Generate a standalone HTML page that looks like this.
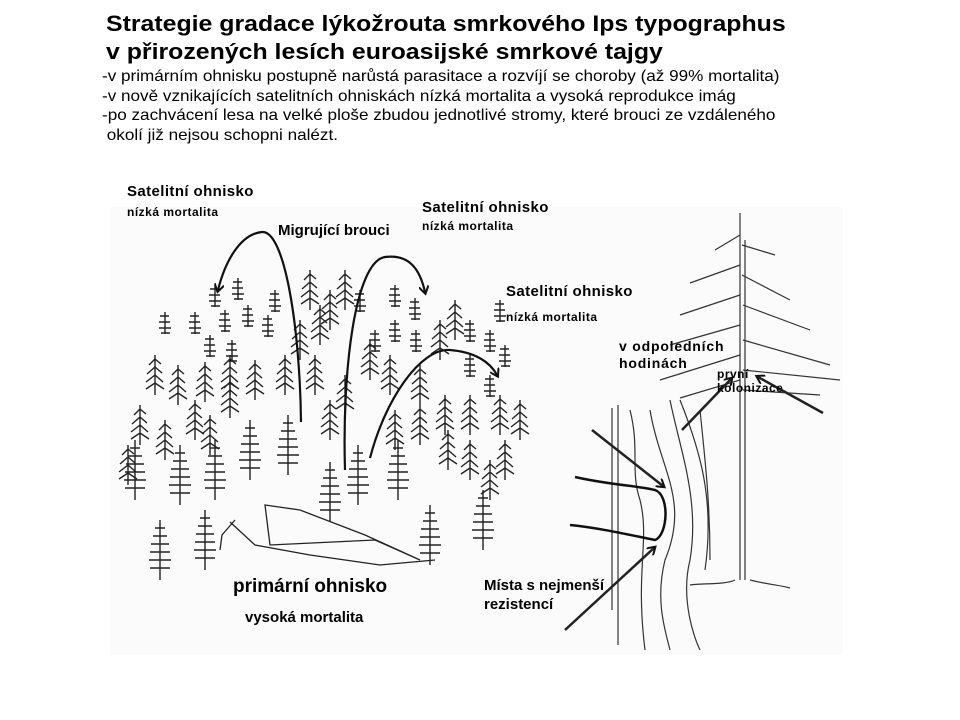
<!DOCTYPE html>
<html><head><meta charset="utf-8"><style>
body{margin:0;width:960px;height:720px;background:#fff;position:relative;overflow:hidden;font-family:"Liberation Sans",Arial,sans-serif;color:#000}
.t{position:absolute;white-space:nowrap;transform-origin:0 0}
</style></head><body>
<svg width="960" height="720" style="position:absolute;left:0;top:0">
<rect x="110" y="207" width="733" height="448" fill="#fbfbfb"/>
<defs>
<g id="a" stroke="#222" stroke-width="1.4" fill="none"><path d="M0 0 V40 M0 4 l-6 6 M0 4 l6 5 M0 12 l-8 7 M0 12 l7 6 M0 20 l-9 7 M0 20 l8 7 M0 28 l-9 6 M0 28 l9 6"/></g>
<g id="b" stroke="#222" stroke-width="1.4" fill="none"><path d="M0 0 V60 M-5 8 H5 M-7 16 H7 M-9 24 H9 M-10 32 H10 M-11 40 H11 M-10 48 H10"/></g>
<g id="c" stroke="#222" stroke-width="1.4" fill="none"><path d="M0 0 V22 M-5 4 H4 M-6 10 H5 M-6 16 H6 M-4 21 H5"/></g>
<marker id="m" markerWidth="10" markerHeight="10" refX="6" refY="5" orient="auto" markerUnits="userSpaceOnUse"><path d="M0 0 L8 5 L0 10" fill="none" stroke="#111" stroke-width="2"/></marker>
</defs>
<g>
<use href="#c" x="215" y="285"/><use href="#c" x="238" y="278"/><use href="#c" x="275" y="290"/><use href="#c" x="165" y="312"/><use href="#c" x="195" y="312"/><use href="#c" x="225" y="310"/><use href="#c" x="248" y="305"/><use href="#c" x="268" y="315"/><use href="#c" x="210" y="335"/><use href="#c" x="232" y="340"/><use href="#c" x="360" y="290"/><use href="#c" x="395" y="285"/><use href="#c" x="415" y="298"/><use href="#c" x="395" y="320"/><use href="#c" x="416" y="330"/><use href="#c" x="470" y="320"/><use href="#c" x="490" y="330"/><use href="#c" x="500" y="300"/><use href="#c" x="470" y="355"/><use href="#c" x="490" y="375"/><use href="#c" x="505" y="345"/><use href="#c" x="375" y="330"/>
<use href="#a" x="155" y="355"/><use href="#a" x="178" y="365"/><use href="#a" x="205" y="362"/><use href="#a" x="230" y="355"/><use href="#a" x="255" y="360"/><use href="#a" x="285" y="355"/><use href="#a" x="300" y="320"/><use href="#a" x="320" y="305"/><use href="#a" x="310" y="270"/><use href="#a" x="330" y="290"/><use href="#a" x="345" y="270"/><use href="#a" x="370" y="340"/><use href="#a" x="390" y="355"/><use href="#a" x="420" y="365"/><use href="#a" x="440" y="320"/><use href="#a" x="455" y="300"/><use href="#a" x="345" y="375"/><use href="#a" x="330" y="400"/><use href="#a" x="315" y="355"/><use href="#a" x="230" y="378"/><use href="#a" x="140" y="405"/><use href="#a" x="165" y="420"/><use href="#a" x="195" y="400"/><use href="#a" x="210" y="415"/><use href="#a" x="395" y="410"/><use href="#a" x="420" y="405"/><use href="#a" x="445" y="395"/><use href="#a" x="470" y="395"/><use href="#a" x="500" y="395"/><use href="#a" x="520" y="400"/><use href="#a" x="448" y="430"/><use href="#a" x="470" y="440"/><use href="#a" x="505" y="440"/><use href="#a" x="490" y="460"/><use href="#a" x="128" y="445"/>
<use href="#b" x="135" y="440"/><use href="#b" x="180" y="445"/><use href="#b" x="215" y="440"/><use href="#b" x="250" y="420"/><use href="#b" x="288" y="415"/><use href="#b" x="330" y="462"/><use href="#b" x="358" y="445"/><use href="#b" x="398" y="440"/><use href="#b" x="430" y="505"/><use href="#b" x="205" y="510"/><use href="#b" x="160" y="520"/><use href="#b" x="483" y="490"/>
</g>
<path d="M265 505 L300 510 L365 535 L420 560 L375 540 L270 545 Z M235 520 L222 535 L220 550" fill="none" stroke="#222" stroke-width="1.3"/>
<path d="M230 522 L255 545 L310 555 L380 565 L435 560" fill="none" stroke="#222" stroke-width="1.3"/>
<g stroke="#111" stroke-width="2.2" fill="none">
<path d="M301 422 C300 330 285 230 262 232 C240 234 225 262 218 290" marker-end="url(#m)"/>
<path d="M345 470 C342 370 355 262 385 257 C410 254 420 270 425 292" marker-end="url(#m)"/>
<path d="M370 458 C385 400 420 348 450 350 C475 352 490 362 497 375" marker-end="url(#m)"/>
</g>
<g stroke="#333" stroke-width="1.2" fill="none">
<path d="M740 213 V580 M745 240 V580 M735 580 C725 585 700 583 690 585 M750 580 C770 585 780 585 790 588"/>
<path d="M740 235 L715 250 M742 245 L775 255 M740 265 L690 283 M742 275 L790 300 M740 295 L680 315 M743 305 L810 330 M740 325 L670 345 M743 340 L830 365 M740 355 L660 380 M743 370 L840 380 M740 380 L680 398 M743 390 L820 395"/>
<path d="M612 408 V610 M618 405 V645 M630 410 C640 450 630 470 640 500 C650 540 635 570 645 650 M650 410 C660 470 690 500 665 560 C655 600 665 630 670 650 M670 400 C680 450 700 500 690 560 C680 600 695 640 700 650 M680 400 C700 450 715 500 705 570 M700 410 C705 460 710 500 710 560"/>
</g>
<path d="M575 477 C610 485 640 486 655 490 C670 495 668 535 655 540 C630 535 600 528 570 525" fill="none" stroke="#111" stroke-width="2.5"/>
<g stroke="#222" stroke-width="2.5" fill="none">
<path d="M592 430 L663 486" marker-end="url(#m)"/>
<path d="M565 630 L654 548" marker-end="url(#m)"/>
<path d="M682 430 L731 379" marker-end="url(#m)"/>
<path d="M823 413 L758 377" marker-end="url(#m)"/>
</g>
</svg>
<div class="t" style="left:106px;top:10px;font-size:22px;font-weight:bold;line-height:28px;transform:scaleX(1.13)">Strategie gradace lýkožrouta smrkového Ips typographus<br>v přirozených lesích euroasijské smrkové tajgy</div>
<div class="t" style="left:102px;top:67px;font-size:16px;line-height:19.5px;transform:scaleX(1.07)">-v primárním ohnisku postupně narůstá parasitace a rozvíjí se choroby (až 99% mortalita)<br>-v nově vznikajících satelitních ohniskách nízká mortalita a vysoká reprodukce imág<br>-po zachvácení lesa na velké ploše zbudou jednotlivé stromy, které brouci ze vzdáleného<br>&nbsp;okolí již nejsou schopni nalézt.</div>
<div class="t" style="left:127px;top:183px;font-size:15px;font-weight:bold;letter-spacing:0.4px">Satelitní ohnisko</div>
<div class="t" style="left:127px;top:205px;font-size:12px;font-weight:bold;letter-spacing:0.5px">nízká mortalita</div>
<div class="t" style="left:422px;top:199px;font-size:15px;font-weight:bold;letter-spacing:0.4px">Satelitní ohnisko</div>
<div class="t" style="left:422px;top:219px;font-size:12px;font-weight:bold;letter-spacing:0.5px">nízká mortalita</div>
<div class="t" style="left:278px;top:222px;font-size:15px;font-weight:bold">Migrující brouci</div>
<div class="t" style="left:506px;top:283px;font-size:15px;font-weight:bold;letter-spacing:0.4px">Satelitní ohnisko</div>
<div class="t" style="left:506px;top:310px;font-size:12px;font-weight:bold;letter-spacing:0.5px">nízká mortalita</div>
<div class="t" style="left:619px;top:338px;font-size:14px;font-weight:bold;line-height:17px;letter-spacing:0.8px">v odpoledních<br>hodinách</div>
<div class="t" style="left:717px;top:367px;font-size:12px;font-weight:bold;line-height:14px;letter-spacing:0.5px">první<br>kolonizace</div>
<div class="t" style="left:233px;top:576px;font-size:19px;font-weight:bold">primární ohnisko</div>
<div class="t" style="left:245px;top:609px;font-size:15px;font-weight:bold">vysoká mortalita</div>
<div class="t" style="left:484px;top:576px;font-size:15px;font-weight:bold;line-height:19px">Místa s nejmenší<br>rezistencí</div>
</body></html>
